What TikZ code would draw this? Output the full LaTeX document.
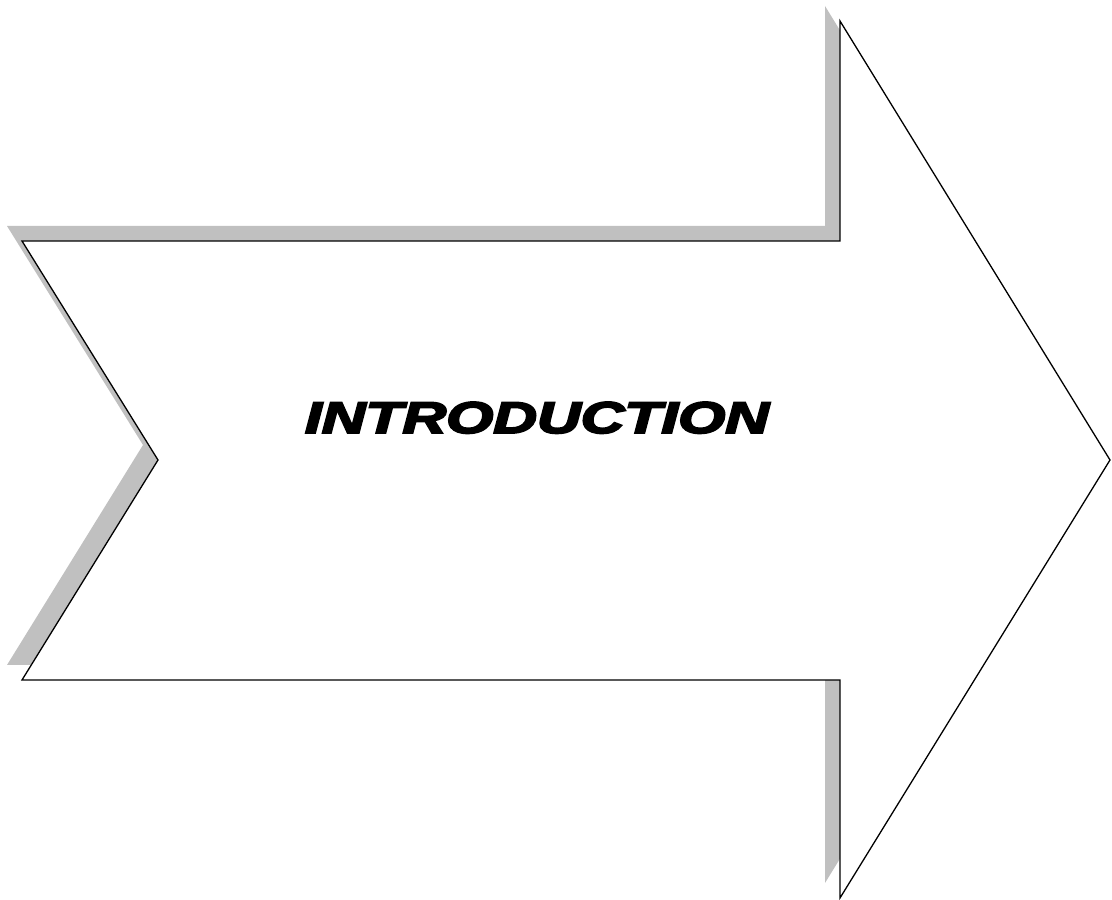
\documentclass[tikz,border=0pt]{standalone}
\usepackage{fontspec}
\setmainfont{Liberation Sans}
\newfontfamily\heavyfont[FakeBold=4]{Liberation Sans}
\usepackage{graphicx}
\definecolor{shadowgrey}{HTML}{C0C0C0}
\tikzset{
  arrowbody/.style={draw=black, line width=1.3pt, fill=white, line join=miter},
  arrowshadow/.style={fill=shadowgrey, draw=none},
  titletext/.style={inner sep=0pt, text=black}
}
\begin{document}
\begin{tikzpicture}[x=1pt,y=1pt]
\useasboundingbox (0,0) rectangle (1112,900);
% shadow
\fill[arrowshadow, shift={(-15,15)}] (22,659) -- (840,659) -- (840,879) -- (1110,440) -- (840,2) -- (840,220) -- (22,220) -- (158,440) -- cycle;
% arrow body
\draw[arrowbody] (22,659) -- (840,659) -- (840,879) -- (1110,440) -- (840,2) -- (840,220) -- (22,220) -- (158,440) -- cycle;
\node[titletext, anchor=base] (title) at (537,467) {\resizebox{464pt}{31pt}{\heavyfont\itshape\bfseries INTRODUCTION}};
\end{tikzpicture}
\end{document}
